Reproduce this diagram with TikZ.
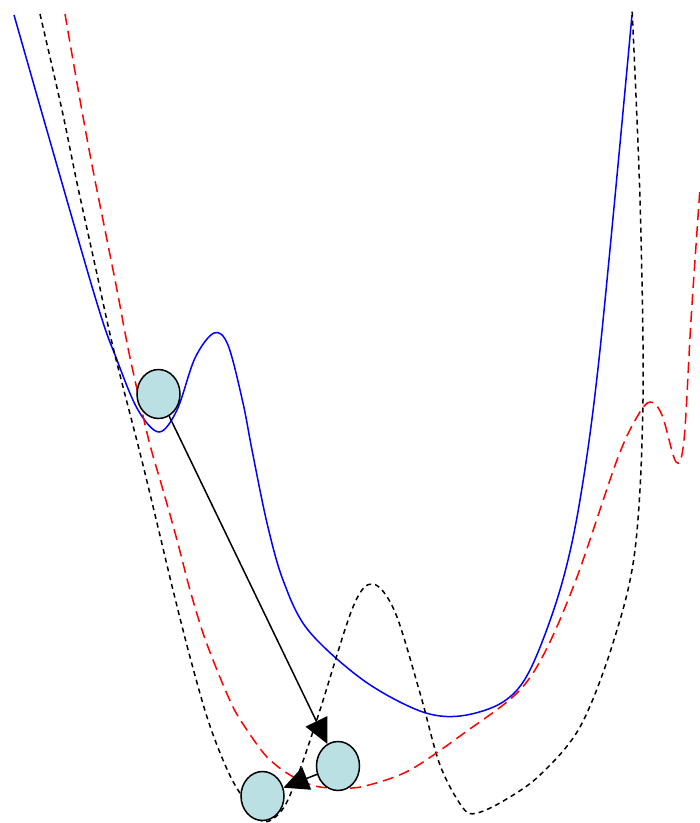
\documentclass[tikz,border=0pt]{standalone}
\usetikzlibrary{shapes.geometric,arrows.meta}
\definecolor{ballfill}{RGB}{187,224,227}
\tikzset{
  ball/.style={ellipse, draw=black, line width=1.5pt, fill=ballfill, minimum width=43pt, minimum height=49pt, inner sep=0pt},
  bluecurve/.style={draw=blue, line width=1.5pt},
  blackcurve/.style={draw=black, line width=1.5pt, dash pattern=on 5pt off 4pt},
  redcurve/.style={draw=red, line width=1.5pt, dash pattern=on 11pt off 6pt},
  move/.style={draw=black, line width=1.5pt, -{Triangle[length=25pt,width=24pt]}}
}
\begin{document}
\begin{tikzpicture}[x=1pt,y=-1pt]
\useasboundingbox (0,0) rectangle (700,823);
% blue landscape
\draw[bluecurve] plot[smooth, tension=0.55] coordinates {
 (14,15) (93,290) (117,360) (138,410) (159,432) (177,410) (195,358) (214,333) (228,345) (243,403) (252,450) (267,523) (283,580) (308,630) (363,680) (420,711) (460,716) (503,702) (530,670) (560,590) (580,500) (600,350) (632,15)};
% black dashed landscape
\draw[blackcurve] plot[smooth, tension=0.55] coordinates {
 (40,14) (62,110) (77,183) (95,265) (113,347) (140,453) (157,523) (173,590) (190,657) (207,717) (223,760) (238,790) (262,821) (282,810) (298,775) (320,710) (353,607) (373,584) (395,612) (420,693) (440,765) (463,808) (477,813) (505,800) (540,775) (580,727) (613,643) (635,550) (643,400) (640,200) (632,8)};
% red dashed landscape
\draw[redcurve] plot[smooth, tension=0.55] coordinates {
 (65,14) (80,100) (92,165) (105,230) (117,290) (128,348) (139,398) (150,445) (163,490) (177,540) (190,590) (203,633) (217,670) (233,707) (247,730) (267,757) (290,775) (315,786) (340,788) (365,786) (410,770) (467,731) (517,693) (545,652) (577,577) (617,460) (637,417) (650,402) (662,415) (676,462) (684,440) (691,320) (700,188)};
% balls
\node[ball] (b1) at (158.5,394) {};
\node[ball] (b2) at (338,766) {};
\node[ball] (b3) at (262.5,796) {};
% moves
\draw[move] (b1) -- (b2);
\draw[move] (b2) -- (b3);
\end{tikzpicture}
\end{document}
